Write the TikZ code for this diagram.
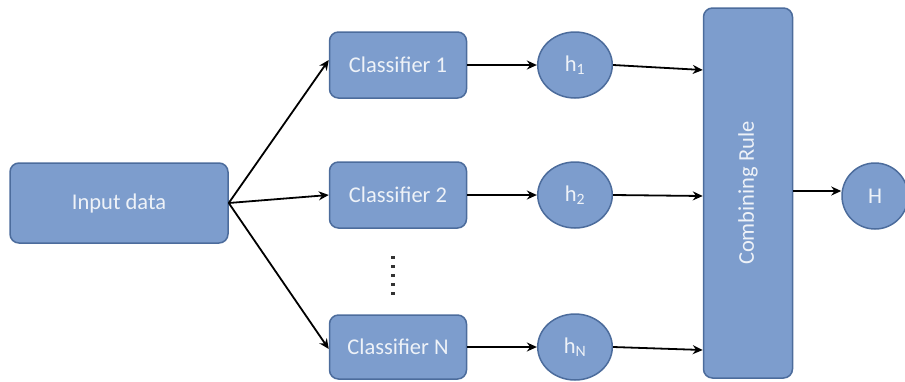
\documentclass[tikz,border=0pt]{standalone}
\usepackage{fontspec}
\setmainfont{Carlito}
\usetikzlibrary{arrows.meta}
\definecolor{boxfill}{HTML}{7D9DCD}
\definecolor{boxedge}{HTML}{4C6C9C}
\definecolor{boxtext}{HTML}{EEF2F8}
\begin{document}
\begin{tikzpicture}[x=1pt,y=-1pt,
  lbl/.style={text=boxtext, font=\fontsize{22.5}{26}\selectfont, inner sep=0pt},
  block/.style={draw=boxedge, line width=1.5pt, fill=boxfill, rounded corners=9pt, lbl},
  bubble/.style={draw=boxedge, line width=1.5pt, fill=boxfill, circle, minimum size=66pt, inner sep=0pt},
  link/.style={line width=1.8pt, -{Stealth[length=10pt,width=9pt]}}]
\useasboundingbox (0,0) rectangle (905,381);
% input block
\node[block, minimum width=218pt, minimum height=80pt] (in) at (119,203) {Input data};
% base classifiers
\node[block, minimum width=137pt, minimum height=66pt] (c1) at (398,65) {Classifier 1};
\node[block, minimum width=137pt, minimum height=66pt] (c2) at (398,195) {Classifier 2};
\node[block, minimum width=137pt, minimum height=64pt] (cn) at (398,347) {Classifier N};
% individual hypotheses
\node[bubble, xscale=1.13] (h1) at (575,65) {};
\node[lbl] at (h1) {h\textsubscript{1}};
\node[bubble, xscale=1.13] (h2) at (575,195) {};
\node[lbl] at (h2) {h\textsubscript{2}};
\node[bubble, xscale=1.13] (hn) at (575,347) {};
\node[lbl] at (hn) {h\textsubscript{N}};
% combiner
\node[block, minimum width=89pt, minimum height=370pt] (comb) at (748,193) {};
\node[lbl, rotate=90] at (comb) {Combining Rule};
% final hypothesis
\node[bubble] (H) at (875,196) {};
\node[lbl] at (H) {H};
% vertical ellipsis
\foreach \k in {0,...,4}
  \fill[black!80] (391,256+9*\k) rectangle (395,259+9*\k);
% connectors
\coordinate (fork) at (in.east);
\draw[link] (fork) -- ([yshift=5pt]c1.west);
\draw[link] (fork) -- (c2.west);
\draw[link] (fork) -- ([yshift=-2pt]cn.west);
\draw[link] (c1.east) -- (h1.west);
\draw[link] (c2.east) -- (h2.west);
\draw[link] (cn.east) -- (hn.west);
\draw[link] (h1.east) -- (comb.west |- 0,70);
\draw[link] (h2.east) -- (comb.west |- 0,196);
\draw[link] (hn.east) -- (comb.west |- 0,350);
\draw[link] (comb.east |- 0,191) -- (H.west |- 0,191);
\end{tikzpicture}
\end{document}
